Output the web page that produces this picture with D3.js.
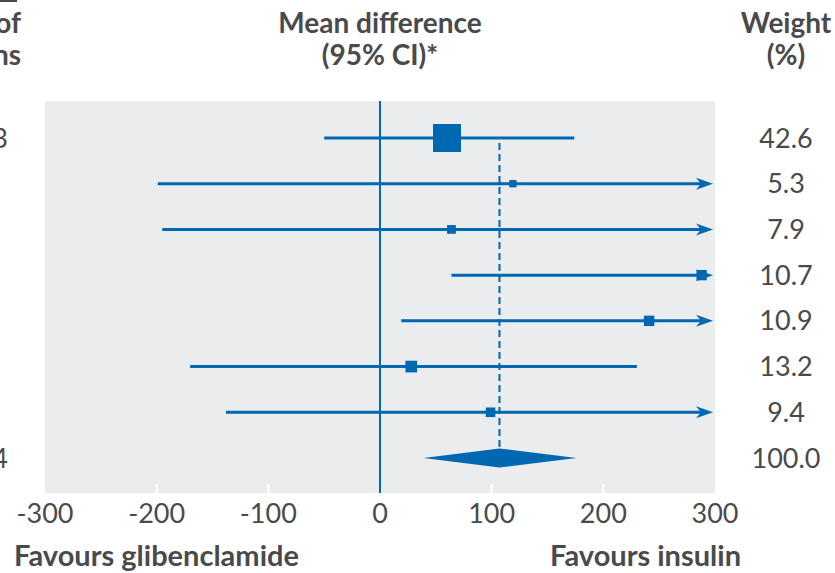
<!DOCTYPE html>
<html>
<head>
<meta charset="utf-8">
<script src="https://cdn.jsdelivr.net/npm/d3@7"></script>
<style>
  body { margin: 0; background: #fff; }
  text { font-family: Lato, "Open Sans", sans-serif; fill: #4a4a4c; }
</style>
</head>
<body>
<div id="svgDiv"></div>
<script>
// data
var meanDiff = [60, 119, 64, 288, 241, 28, 99];
var ciLow = [-50, -199, -195, 64, 19, -170, -138];
var ciHigh = [174, 330, 330, 330, 330, 230, 330];   // > 300 drawn as arrows
var weights = [42.6, 5.3, 7.9, 10.7, 10.9, 13.2, 9.4];
var pooled = { mean: 107, low: 39, high: 176, weight: 100.0 };
var leftLabels = ["3", "", "", "", "", "", "", "4"];
var xTicks = [-300, -200, -100, 0, 100, 200, 300];

var svgWidth = 835, svgHeight = 573;
var blue = "#0067b1";

var svg = d3.select("#svgDiv")
    .append("svg")
    .attr("width", svgWidth)
    .attr("height", svgHeight);

var xScale = d3.scaleLinear().domain([-300, 300]).range([45, 715]);
var yScale = d3.scaleLinear().domain([0, 7]).range([138, 458]);
var sizeScale = d3.scaleLinear().domain([5.3, 42.6]).range([7.3, 28]);

var panelTop = 101, panelBottom = 493;

// grey panel
svg.append("rect")
    .attr("x", xScale(-300)).attr("y", panelTop)
    .attr("width", xScale(300) - xScale(-300))
    .attr("height", panelBottom - panelTop)
    .attr("fill", "#ebeced");

// white tick marks at bottom of panel
svg.selectAll(".tick")
    .data(xTicks.filter(d => d != 0 && Math.abs(d) < 300))
    .enter().append("line")
    .attr("x1", d => xScale(d)).attr("x2", d => xScale(d))
    .attr("y1", panelBottom - 9).attr("y2", panelBottom)
    .attr("stroke", "#fff").attr("stroke-width", 2);

// tick labels
svg.selectAll(".tickLabel")
    .data(xTicks)
    .enter().append("text")
    .attr("x", d => xScale(d))
    .attr("y", 523)
    .attr("text-anchor", "middle")
    .style("font-size", "27px")
    .text(d => d);

// zero line
svg.append("line")
    .attr("x1", xScale(0)).attr("x2", xScale(0))
    .attr("y1", panelTop).attr("y2", panelBottom)
    .attr("stroke", blue).attr("stroke-width", 2);

// dashed pooled line
svg.append("line")
    .attr("x1", xScale(pooled.mean)).attr("x2", xScale(pooled.mean))
    .attr("y1", yScale(0) + 5).attr("y2", yScale(7) - 9)
    .attr("stroke", blue).attr("stroke-width", 2)
    .attr("stroke-dasharray", "7,4");

// CI lines
var rows = meanDiff.map((m, i) => ({ m: m, lo: ciLow[i], hi: ciHigh[i], w: weights[i], i: i }));
var lineEnd = d => d.hi > 300 ? xScale(300) - 12 : xScale(d.hi);

svg.selectAll(".ci")
    .data(rows)
    .enter().append("line")
    .attr("x1", d => xScale(Math.max(d.lo, -300)))
    .attr("x2", lineEnd)
    .attr("y1", d => yScale(d.i)).attr("y2", d => yScale(d.i))
    .attr("stroke", blue).attr("stroke-width", 3);

// arrow heads for CIs beyond the axis
svg.selectAll(".arrow")
    .data(rows.filter(d => d.hi > 300))
    .enter().append("path")
    .attr("d", d => {
        var tip = xScale(300) - 2, y = yScale(d.i);
        return "M" + (tip - 17) + "," + (y - 6) + "L" + tip + "," + y +
               "L" + (tip - 17) + "," + (y + 6) + "L" + (tip - 12) + "," + y + "Z";
    })
    .attr("fill", blue);

// squares
svg.selectAll(".box")
    .data(rows)
    .enter().append("rect")
    .attr("x", d => xScale(d.m) - sizeScale(d.w) / 2)
    .attr("y", d => yScale(d.i) - sizeScale(d.w) / 2)
    .attr("width", d => sizeScale(d.w))
    .attr("height", d => sizeScale(d.w))
    .attr("fill", blue);

// pooled diamond
var dy = yScale(7);
svg.append("path")
    .attr("d", "M" + xScale(pooled.low) + "," + dy +
               "L" + xScale(pooled.mean) + "," + (dy - 9.5) +
               "L" + xScale(pooled.high) + "," + dy +
               "L" + xScale(pooled.mean) + "," + (dy + 9.5) + "Z")
    .attr("fill", blue);

// weights column
var weightLabels = weights.map(w => w.toFixed(1)).concat([pooled.weight.toFixed(1)]);
svg.selectAll(".weight")
    .data(weightLabels)
    .enter().append("text")
    .attr("x", 786)
    .attr("y", (d, i) => yScale(i) + 9.5)
    .attr("text-anchor", "middle")
    .style("font-size", "27px")
    .text(d => d);

// left column (cut off by the crop, as in the source)
svg.selectAll(".left")
    .data(leftLabels)
    .enter().append("text")
    .attr("x", 8)
    .attr("y", (d, i) => yScale(i) + 9.5)
    .attr("text-anchor", "end")
    .style("font-size", "27px")
    .text(d => d);

// headers
function header(x, lines, anchor) {
    svg.selectAll(null)
        .data(lines)
        .enter().append("text")
        .attr("x", x)
        .attr("y", (d, i) => 33 + i * 32)
        .attr("text-anchor", anchor)
        .style("font-size", "28px")
        .style("font-weight", "bold")
        .text(d => d);
}
header(380, ["Mean difference", "(95% CI)*"], "middle");
header(786, ["Weight", "(%)"], "middle");
header(21, ["of", "ns"], "end");

svg.append("line")
    .attr("x1", 0).attr("x2", 17)
    .attr("y1", 1).attr("y2", 1)
    .attr("stroke", "#4a4a4c").attr("stroke-width", 2);

// footer
svg.append("text")
    .attr("x", 14).attr("y", 566)
    .style("font-size", "29px").style("font-weight", "bold")
    .text("Favours glibenclamide");
svg.append("text")
    .attr("x", 741).attr("y", 566)
    .attr("text-anchor", "end")
    .style("font-size", "29px").style("font-weight", "bold")
    .text("Favours insulin");
</script>
</body>
</html>
